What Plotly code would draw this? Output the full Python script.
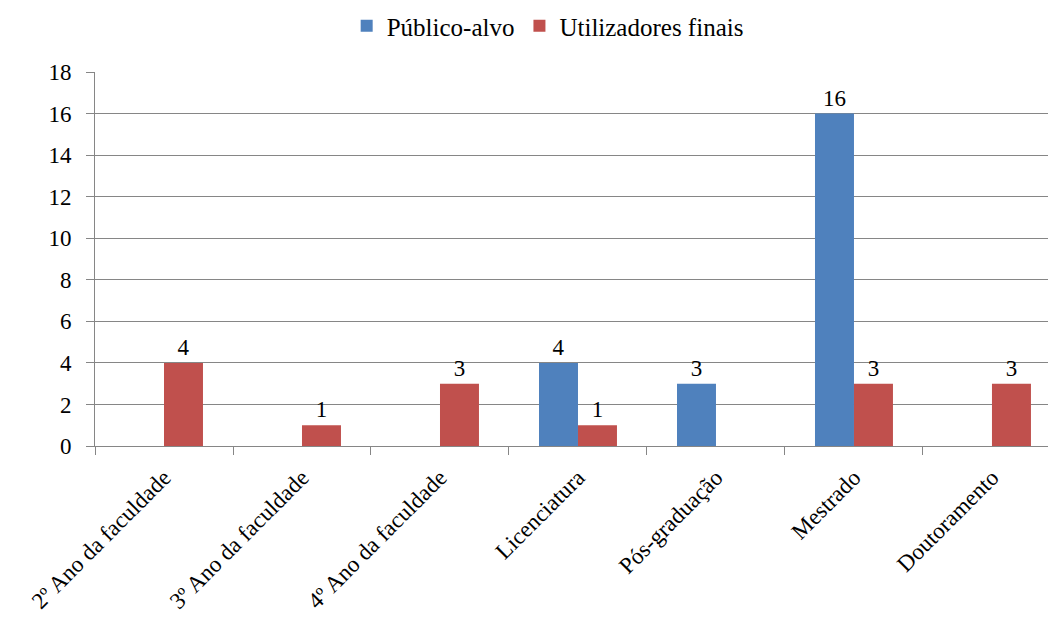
import plotly.graph_objects as go

categories = ["2º Ano da faculdade", "3º Ano da faculdade", "4º Ano da faculdade",
              "Licenciatura", "Pós-graduação", "Mestrado", "Doutoramento"]
publico_alvo = [None, None, None, 4, 3, 16, None]
utilizadores_finais = [4, 1, 3, 1, None, 3, 3]
y_ticks = [0, 2, 4, 6, 8, 10, 12, 14, 16, 18]

FONT = "Times New Roman"
FS = 23

def labels(vals):
    return ["" if v is None else str(v) for v in vals]

fig = go.Figure()
fig.add_trace(go.Bar(name="Público-alvo", x=categories, y=publico_alvo,
                     marker=dict(color="#4F81BD", line=dict(width=0)),
                     text=labels(publico_alvo), textposition="outside",
                     textfont=dict(family=FONT, size=FS, color="black"),
                     cliponaxis=False))
fig.add_trace(go.Bar(name="Utilizadores finais", x=categories, y=utilizadores_finais,
                     marker=dict(color="#C0504D", line=dict(width=0)),
                     text=labels(utilizadores_finais), textposition="outside",
                     textfont=dict(family=FONT, size=FS, color="black"),
                     cliponaxis=False))

fig.update_layout(
    width=1048, height=621,
    margin=dict(l=95, r=0, t=72, b=175),
    paper_bgcolor="white", plot_bgcolor="white",
    barmode="group", bargap=0.435, bargroupgap=0,
    font=dict(family=FONT, size=FS, color="black"),
    legend=dict(orientation="h", x=0.475, xanchor="center", y=0.995, yanchor="top",
                yref="container", font=dict(family=FONT, size=25),
                itemwidth=30, traceorder="normal"),
    showlegend=True,
)
fig.update_xaxes(range=[-0.5, 6.406], tickangle=-45, ticks="outside", tickson="boundaries",
                 ticklen=8, tickcolor="#868686", showline=True, linecolor="#868686",
                 linewidth=1, showgrid=False, tickfont=dict(family=FONT, size=FS),
                 ticklabelstandoff=8)
fig.update_yaxes(range=[0, 18], tickvals=y_ticks, ticks="outside", ticklen=8,
                 tickcolor="#868686", showline=True, linecolor="#868686", linewidth=1,
                 showgrid=True, gridcolor="#868686", gridwidth=1, zeroline=False,
                 tickfont=dict(family=FONT, size=FS), ticklabelstandoff=10)

fig.write_html("out.html")
